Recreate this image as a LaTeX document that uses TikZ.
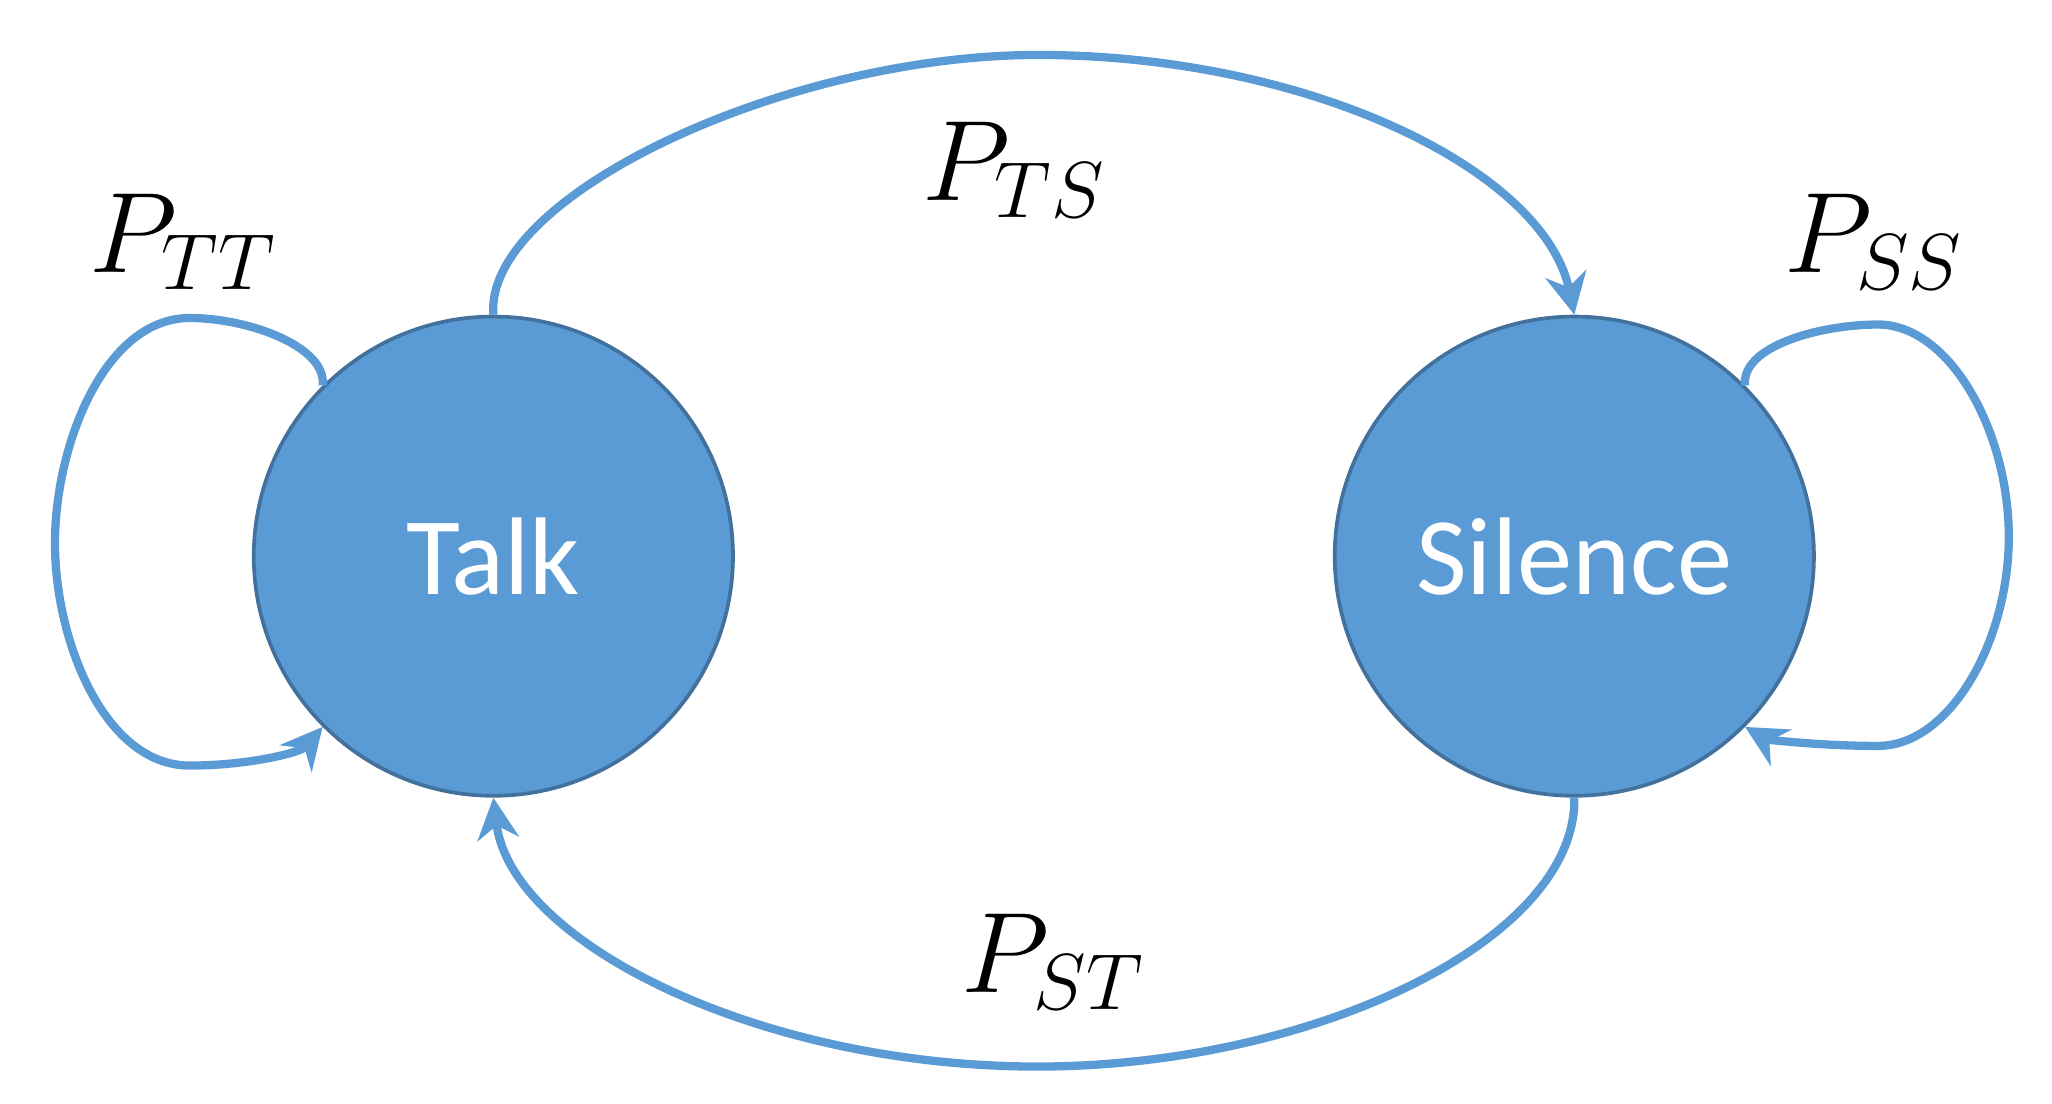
\documentclass[tikz,border=0pt]{standalone}
\usepackage{fontspec}
\newfontfamily\carlitofont{Carlito}
\usetikzlibrary{arrows.meta}
\definecolor{nodeblue}{HTML}{5B9BD5}
\definecolor{edgeblue}{HTML}{41719C}
\begin{document}
\begin{tikzpicture}[x=0.01cm,y=-0.01cm,
  state/.style={circle,fill=nodeblue,draw=edgeblue,line width=0.8pt,minimum size=3.66cm,inner sep=0pt,text=white,font=\carlitofont\fontsize{24}{28}\selectfont},
  link/.style={draw=nodeblue,line width=1.8pt,-{Stealth[length=9pt,width=9pt]}},
  lab/.style={font=\fontsize{24}{28}\selectfont}]
\path[use as bounding box] (0,0) rectangle (1568,843);
\node[state] (T) at (377,425) {Talk};
\node[state] (S) at (1203,425) {Silence};
\draw[link] (T.north) .. controls (370,150) and (600,42) .. (793,42) .. controls (1000,42) and (1180,130) .. (S.north);
\draw[link] (S.south) .. controls (1205,720) and (1000,815) .. (793,815) .. controls (580,815) and (390,720) .. (T.south);
\draw[link] (T.135) .. controls (250,265) and (190,243) .. (145,243) .. controls (80,243) and (42,340) .. (42,415) .. controls (42,490) and (80,585) .. (145,585) .. controls (190,585) and (230,575) .. (T.225);
\draw[link] (S.45) .. controls (1330,265) and (1390,248) .. (1435,248) .. controls (1490,248) and (1535,330) .. (1535,410) .. controls (1535,490) and (1490,570) .. (1435,570) .. controls (1390,570) and (1350,565) .. (S.-45);
\node[lab] (ptt) at (140,185) {$P_{TT}$};
\node[lab] (pts) at (775,130) {$P_{TS}$};
\node[lab] (pss) at (1432,185) {$P_{SS}$};
\node[lab] (pst) at (805,735) {$P_{ST}$};
\end{tikzpicture}
\end{document}
